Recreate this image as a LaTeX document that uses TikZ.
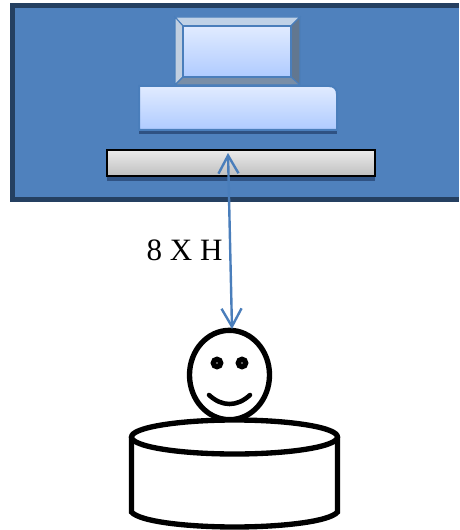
\documentclass[tikz,border=0pt]{standalone}
\usepackage{fontspec}
\setmainfont{Liberation Serif}
\usetikzlibrary{arrows.meta,shapes.geometric}
\definecolor{wallblue}{HTML}{4F81BD}
\definecolor{walldark}{HTML}{254061}
\definecolor{edgeblue}{HTML}{4A7EBB}
\definecolor{shadowblue}{HTML}{2F5283}
\definecolor{glasstop}{HTML}{E1EBFF}
\definecolor{glassbottom}{HTML}{AFCBFF}
\tikzset{
  glass/.style={draw=edgeblue,line width=1.5pt,top color=glasstop,bottom color=glassbottom},
  bevel/.style={draw=edgeblue,line width=0.8pt},
  figure/.style={draw=black,line width=4pt,fill=white},
  eye/.style={draw=black,fill=white,shape=circle,line width=4pt,minimum size=5.5pt,inner sep=0pt},
}
\begin{document}
\begin{tikzpicture}[x=0.75pt,y=-0.75pt,line width=1pt,>={Straight Barb[length=13.5pt,width=15pt]}]
  \useasboundingbox (0,0) rectangle (459,530);
  % wall
  \fill[wallblue] (12,5) rectangle (459,200);
  \draw[walldark,line width=3.8pt] (459,5.5) -- (12.5,5.5) -- (12.5,199.5) -- (459,199.5);
  % monitor
  \filldraw[bevel,fill=white!65!edgeblue] (175,17) -- (300,17) -- (291,26) -- (183,26) -- cycle;
  \filldraw[bevel,fill=white!70!edgeblue!90!gray] (175,17) -- (183,26) -- (183,77) -- (175,85) -- cycle;
  \filldraw[bevel,fill=black!55!white!60!edgeblue] (300,17) -- (291,26) -- (291,77) -- (300,85) -- cycle;
  \filldraw[bevel,fill=black!40!white!60!edgeblue] (175,85) -- (183,77) -- (291,77) -- (300,85) -- cycle;
  \shadedraw[glass] (183,26) rectangle (291,77);
  % desk
  \fill[shadowblue] (139,130) rectangle (337,134);
  \shadedraw[glass] (139,86) -- (329,86) .. controls (334,86) and (337,89) .. (337,94) -- (337,130) -- (139,130) -- cycle;
  % screen bar
  \fill[shadowblue] (107,176) rectangle (375,181);
  \shadedraw[black,line width=1.3pt,top color=black!8,bottom color=black!25] (107,150) rectangle (375,176);
  % face
  \node[figure,shape=ellipse,minimum width=60pt,minimum height=67pt,inner sep=0pt] (face) at (229.5,375){};
  \node[eye] (eyeleft) at (217,363){};
  \node[eye] (eyeright) at (242,363){};
  \draw[black,line width=3.4pt,line cap=round] (209,395) .. controls (222,407) and (237,407) .. (250,395);
  % drum
  \draw[figure] (131.5,437) -- (131.5,512) .. controls (140,522) and (190,527) .. (234.5,527) .. controls (279,527) and (329,522) .. (337.5,512) -- (337.5,437);
  \draw[figure] (234.5,437) ellipse [x radius=103,y radius=17];
  % distance
  \coordinate (barpoint) at (228,153);
  \coordinate (headpoint) at (232,329);
  \draw[<->,edgeblue,line width=1.8pt] (barpoint) -- (headpoint);
  \node[font=\fontsize{23.3}{27}\selectfont,inner sep=0pt] (distlabel) at (184.5,250){8 X H};
\end{tikzpicture}
\end{document}
